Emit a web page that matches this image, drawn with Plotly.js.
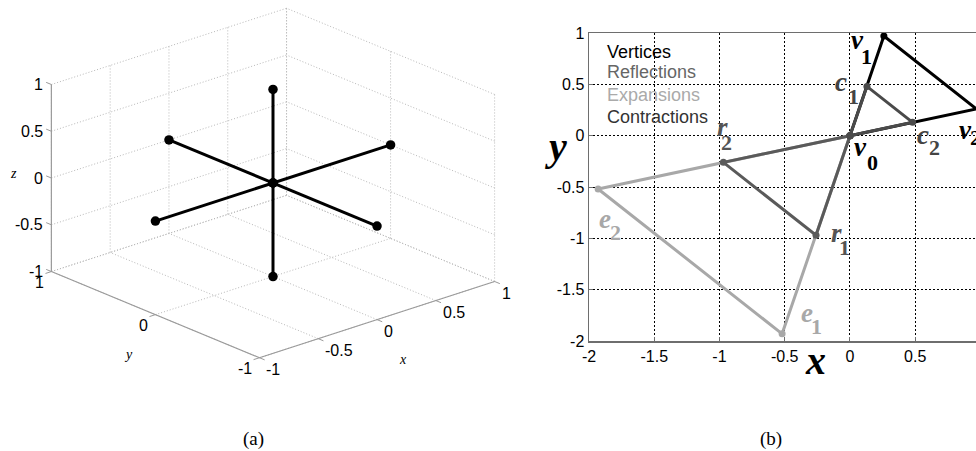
<!DOCTYPE html>
<html>
<head>
<meta charset="utf-8">
<script src="https://cdn.plot.ly/plotly-3.0.1.min.js"></script>
<style>html,body{margin:0;padding:0;background:#fff;overflow:hidden}#chart{width:976px;height:451px}</style>
</head>
<body>
<div id="chart"></div>
<script>
// ---------- Panel (a): 3D spokes (unit vectors along each axis) ----------
const spokeXx = [-1, 0, 1], spokeXy = [0, 0, 0], spokeXz = [0, 0, 0];
const spokeYx = [0, 0, 0], spokeYy = [-1, 0, 1], spokeYz = [0, 0, 0];
const spokeZx = [0, 0, 0], spokeZy = [0, 0, 0], spokeZz = [-1, 0, 1];
const ticks3dX = [-1, -0.5, 0, 0.5, 1];
const ticks3dXText = ['-1', '-0.5', '0', '0.5', '1'];
const ticks3dY = [-1, 0, 1];
const ticks3dYText = ['-1', '0', '1'];
const ticks3dZ = [-1, -0.5, 0, 0.5, 1];
const ticks3dZText = ['-1', '-0.5', '0', '0.5', '1'];

// ---------- Panel (b): simplex search ----------
const seriesNames = ['Vertices', 'Reflections', 'Expansions', 'Contractions'];
const seriesColors = ['#000000', '#5a5a5a', '#a8a8a8', '#4a4a4a'];
const legendColors = ['#000000', '#666666', '#aaaaaa', '#333333'];
const vertX = [0, 0.26, 0.97, 0];       const vertY = [0, 0.97, 0.26, 0];
const reflX = [0, -0.26, -0.97, 0];     const reflY = [0, -0.97, -0.26, 0];
const expX  = [0, -0.52, -1.93, 0];     const expY  = [0, -1.93, -0.52, 0];
const conX  = [0, 0.13, 0.48, 0];       const conY  = [0, 0.48, 0.13, 0];
const xTicks = [-2, -1.5, -1, -0.5, 0, 0.5, 1];
const xTickText = ['-2', '-1.5', '-1', '-0.5', '0', '0.5', '1'];
const yTicks = [-2, -1.5, -1, -0.5, 0, 0.5, 1];
const yTickText = ['-2', '-1.5', '-1', '-0.5', '0', '0.5', '1'];
// point labels: letter, index, colour, letter position, index position (data units)
const pointLabels = [
  ['v', '1', '#000000', [0.054, 0.93], [0.123, 0.77]],
  ['v', '2', '#000000', [0.885, 0.06], [0.96, -0.02]],
  ['v', '0', '#000000', [0.08, -0.115], [0.17, -0.26]],
  ['c', '1', '#444444', [-0.07, 0.52], [0.025, 0.38]],
  ['c', '2', '#444444', [0.56, 0.01], [0.65, -0.115]],
  ['r', '2', '#555555', [-0.98, 0.08], [-0.95, -0.07]],
  ['r', '1', '#555555', [-0.10, -0.945], [-0.04, -1.085]],
  ['e', '2', '#a8a8a8', [-1.88, -0.81], [-1.80, -0.945]],
  ['e', '1', '#a8a8a8', [-0.33, -1.725], [-0.26, -1.855]]
];

const serif = 'Liberation Serif, Times New Roman, serif';
const sans = 'Liberation Sans, Arial, Helvetica, sans-serif';

// ---- orthographic view (azimuth / elevation), stretched to fill like MATLAB ----
const AZ = -41.5 * Math.PI / 180, EL = 31.6 * Math.PI / 180;
const HSCALE = 157, VSCALE = 109.8;      // px per projected unit
const CX = 273, CY = 183;                // pixel of the origin
function px(x, y, z) { return Math.cos(AZ) * x + Math.sin(AZ) * y; }
function py(x, y, z) { return -Math.sin(EL) * Math.sin(AZ) * x + Math.sin(EL) * Math.cos(AZ) * y + Math.cos(EL) * z; }
function proj(xs, ys, zs) {
  const X = [], Y = [];
  for (let i = 0; i < xs.length; i++) {
    if (xs[i] === null) { X.push(null); Y.push(null); continue; }
    X.push(px(xs[i], ys[i], zs[i])); Y.push(py(xs[i], ys[i], zs[i]));
  }
  return [X, Y];
}
function seg3(list, color, width, dash) {
  const xs = [], ys = [], zs = [];
  list.forEach(s => { xs.push(s[0][0], s[1][0], null); ys.push(s[0][1], s[1][1], null); zs.push(s[0][2], s[1][2], null); });
  const p = proj(xs, ys, zs);
  return {type: 'scatter', mode: 'lines', x: p[0], y: p[1], xaxis: 'x2', yaxis: 'y2',
    line: {color: color, width: width, dash: dash}, hoverinfo: 'skip', showlegend: false, connectgaps: false};
}

// grid on back planes: y=+1, x=+1, z=-1
const grid = [];
ticks3dX.forEach(t => { grid.push([[t, 1, -1], [t, 1, 1]]); grid.push([[t, -1, -1], [t, 1, -1]]); });
ticks3dY.forEach(t => { grid.push([[1, t, -1], [1, t, 1]]); grid.push([[-1, t, -1], [1, t, -1]]); });
ticks3dZ.forEach(t => { grid.push([[-1, 1, t], [1, 1, t]]); grid.push([[1, -1, t], [1, 1, t]]); });
const axisLines = [[[-1, 1, -1], [-1, 1, 1]], [[-1, -1, -1], [-1, 1, -1]], [[-1, -1, -1], [1, -1, -1]]];
const tickMarks = [];
ticks3dX.forEach(t => tickMarks.push([[t, -1, -1], [t, -1.05, -1]]));
ticks3dY.forEach(t => tickMarks.push([[-1, t, -1], [-1.05, t, -1]]));
ticks3dZ.forEach(t => tickMarks.push([[-1, 1, t], [-1, 1.05, t]]));

function spoke(x, y, z) {
  const p = proj(x, y, z);
  return {type: 'scatter', mode: 'lines+markers', x: p[0], y: p[1], xaxis: 'x2', yaxis: 'y2',
    line: {color: '#000', width: 3}, marker: {color: '#000', size: 9.5},
    showlegend: false, hoverinfo: 'skip', cliponaxis: false};
}
function tri(x, y, i) {
  return {type: 'scatter', mode: 'lines+markers', x: x, y: y, name: seriesNames[i],
    line: {color: seriesColors[i], width: 3}, marker: {color: seriesColors[i], size: 7},
    showlegend: false, hoverinfo: 'skip', xaxis: 'x', yaxis: 'y', cliponaxis: false};
}

const data = [
  seg3(grid, '#b8b8b8', 1, '1px,2px'),
  seg3(axisLines, '#9a9a9a', 1.2, 'solid'),
  seg3(tickMarks, '#9a9a9a', 1, 'solid'),
  spoke(spokeXx, spokeXy, spokeXz),
  spoke(spokeYx, spokeYy, spokeYz),
  spoke(spokeZx, spokeZy, spokeZz),
  tri(vertX, vertY, 0),
  tri(expX, expY, 2),
  tri(reflX, reflY, 1),
  tri(conX, conY, 3)
];

const annotations = [];
function ann3(pt, text, xanchor, xs, ys, font) {
  annotations.push({xref: 'x2', yref: 'y2', x: px(pt[0], pt[1], pt[2]), y: py(pt[0], pt[1], pt[2]),
    text: text, showarrow: false, xanchor: xanchor, yanchor: 'middle', xshift: xs, yshift: ys,
    font: font, borderpad: 0});
}
const tf3 = {family: sans, size: 16, color: '#000'};
const lf3 = {family: serif, size: 14, style: 'italic', color: '#000'};
ticks3dX.forEach((t, i) => ann3([t, -1, -1], ticks3dXText[i], 'left', 6, -12, tf3));
ticks3dY.forEach((t, i) => ann3([-1, t, -1], ticks3dYText[i], 'right', -6, -11, tf3));
ticks3dZ.forEach((t, i) => ann3([-1, 1, t], ticks3dZText[i], 'right', -7, 0, tf3));
ann3([0, -1, -1], 'x', 'center', 26, -40, lf3);
ann3([-1, 0, -1], 'y', 'center', -27, -40, lf3);
ann3([-1, 1, 0], 'z', 'center', -38, 5, lf3);

const legendY = [52, 72, 95, 117];
seriesNames.forEach((n, i) => {
  annotations.push({xref: 'paper', yref: 'paper', x: 606 / 976, y: 1 - legendY[i] / 451,
    xanchor: 'left', yanchor: 'middle', showarrow: false, text: n, borderpad: 0,
    font: {family: sans, size: 18, color: legendColors[i]}});
});
pointLabels.forEach(p => {
  annotations.push({xref: 'x', yref: 'y', x: p[3][0], y: p[3][1], showarrow: false, borderpad: 0,
    text: '<b><i>' + p[0] + '</i></b>', xanchor: 'center', yanchor: 'middle',
    font: {family: serif, size: 27, color: p[2]}});
  annotations.push({xref: 'x', yref: 'y', x: p[4][0], y: p[4][1], showarrow: false, borderpad: 0,
    text: '<b>' + p[1] + '</b>', xanchor: 'center', yanchor: 'middle',
    font: {family: serif, size: 22, color: p[2]}});
});
function paperAnn(xp, yp, text, font) {
  annotations.push({xref: 'paper', yref: 'paper', x: xp / 976, y: 1 - yp / 451, showarrow: false,
    borderpad: 0, xanchor: 'center', yanchor: 'middle', text: text, font: font});
}
paperAnn(815, 360, '<b><i>x</i></b>', {family: serif, size: 40, color: '#000'});
paperAnn(556, 146, '<b><i>y</i></b>', {family: serif, size: 40, color: '#000'});
paperAnn(254, 439, '(a)', {family: serif, size: 19, color: '#000'});
paperAnn(771, 439, '(b)', {family: serif, size: 19, color: '#000'});

// panel (a) cartesian frame so that the origin lands at (CX, CY)
const W = 976, H = 451;
const dxA = [0, 0.56], dyA = [0.08, 1];
const pxL = dxA[0] * W, pxR = dxA[1] * W, pyT = (1 - dyA[1]) * H, pyB = (1 - dyA[0]) * H;
const rangeXA = [(pxL - CX) / HSCALE, (pxR - CX) / HSCALE];
const rangeYA = [(CY - pyB) / VSCALE, (CY - pyT) / VSCALE];

const layout = {
  width: W, height: H, margin: {l: 0, r: 0, t: 0, b: 0},
  paper_bgcolor: '#fff', plot_bgcolor: 'rgba(0,0,0,0)', showlegend: false, hovermode: false,
  xaxis2: {domain: dxA, range: rangeXA, visible: false, anchor: 'y2', fixedrange: true},
  yaxis2: {domain: dyA, range: rangeYA, visible: false, anchor: 'x2', fixedrange: true},
  xaxis: {domain: [589 / 976, 1], range: [-2, 0.966], tickvals: xTicks, ticktext: xTickText,
    showgrid: true, gridcolor: '#000', griddash: '2px,2px', gridwidth: 1, zeroline: false,
    showline: true, mirror: true, linecolor: '#6e6e6e', linewidth: 1.5,
    ticks: 'inside', ticklen: 4, tickcolor: '#6e6e6e',
    tickfont: {family: sans, size: 16, color: '#000'}, anchor: 'y', fixedrange: true},
  yaxis: {domain: [1 - 341 / 451, 1 - 33 / 451], range: [-2, 1], tickvals: yTicks, ticktext: yTickText,
    showgrid: true, gridcolor: '#000', griddash: '2px,2px', gridwidth: 1, zeroline: false,
    showline: true, linecolor: '#6e6e6e', linewidth: 1.5,
    ticks: 'inside', ticklen: 4, tickcolor: '#6e6e6e',
    tickfont: {family: sans, size: 16, color: '#000'}, anchor: 'x', fixedrange: true},
  annotations: annotations
};

Plotly.newPlot('chart', data, layout, {displayModeBar: false, staticPlot: true});
</script>
</body>
</html>
